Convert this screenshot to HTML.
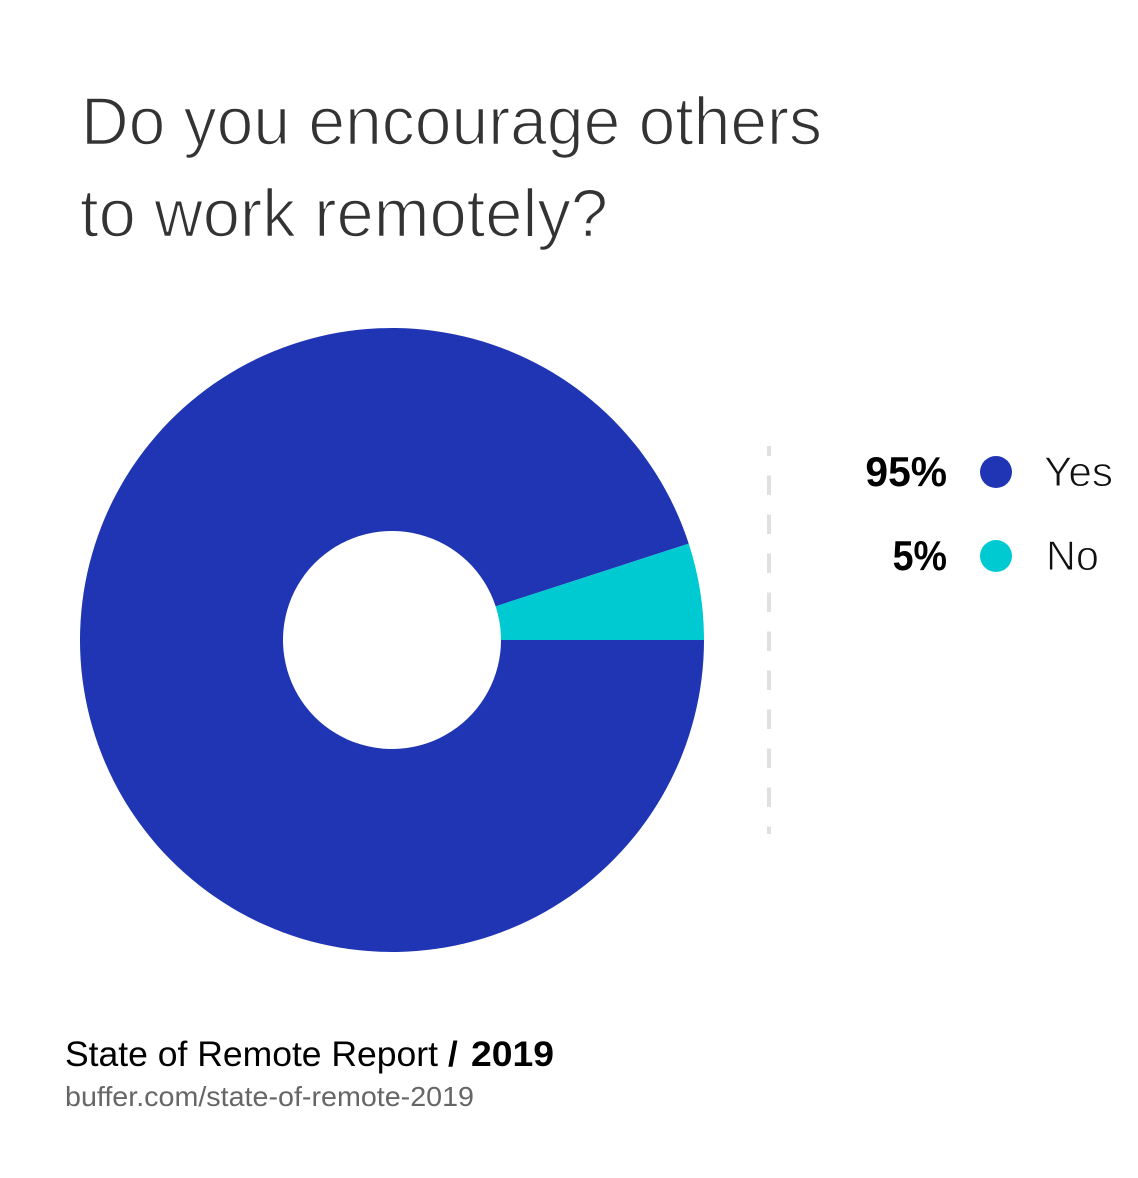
<!DOCTYPE html>
<html lang="en">
<head>
<meta charset="utf-8">
<title>Do you encourage others to work remotely?</title>
<style>
html,body{margin:0;padding:0;background:#fff;width:1138px;height:1178px;overflow:hidden}
svg{display:block}
text{font-family:"Liberation Sans",sans-serif}
</style>
</head>
<body>
<svg id="chart" width="1138" height="1178" viewBox="0 0 1138 1178" xmlns="http://www.w3.org/2000/svg">
  <rect width="1138" height="1178" fill="#ffffff"/>
  <g fill="#333333" font-size="68" stroke="#ffffff" stroke-width="1.6">
    <text x="81" y="144.5" textLength="741" lengthAdjust="spacingAndGlyphs">Do you encourage others</text>
    <text x="80" y="236.5" textLength="528" lengthAdjust="spacingAndGlyphs">to work remotely?</text>
  </g>
  <g id="slices"></g>
  <line x1="769" y1="446" x2="769" y2="834" stroke="#e0e0e0" stroke-width="4" stroke-dasharray="19.5 19.5" stroke-dashoffset="9.5"/>
  <g id="legend"></g>
  <g>
    <text x="65" y="1066" font-size="35" fill="#000000" textLength="373" lengthAdjust="spacingAndGlyphs">State of Remote Report</text>
    <text x="448" y="1066" font-size="35" font-weight="700" fill="#000000">/</text>
    <text x="471" y="1066" font-size="35" font-weight="700" fill="#000000" textLength="83" lengthAdjust="spacingAndGlyphs">2019</text>
    <text x="65" y="1106" font-size="28" fill="#666666" textLength="409" lengthAdjust="spacingAndGlyphs">buffer.com/state-of-remote-2019</text>
  </g>
</svg>
<script>
const categories = ['Yes', 'No'];
const seriesValues = [95, 5];
const valueLabels = ['95%', '5%'];
const seriesColors = ['#2035b3', '#00cad1'];

const NS = 'http://www.w3.org/2000/svg';
const cx = 392, cy = 640, outerR = 312, innerR = 109;
const total = seriesValues.reduce(function (a, b) { return a + b; }, 0);

function angleScale(v) {
  return v / total * Math.PI * 2;
}
function polar(r, a) {
  return [cx + r * Math.cos(a), cy + r * Math.sin(a)];
}
function slicePath(a0, a1) {
  const p0 = polar(outerR, a0), p1 = polar(outerR, a1);
  const p2 = polar(innerR, a1), p3 = polar(innerR, a0);
  const large = a1 - a0 > Math.PI ? 1 : 0;
  return 'M' + p0[0] + ' ' + p0[1] +
    'A' + outerR + ' ' + outerR + ' 0 ' + large + ' 1 ' + p1[0] + ' ' + p1[1] +
    'L' + p2[0] + ' ' + p2[1] +
    'A' + innerR + ' ' + innerR + ' 0 ' + large + ' 0 ' + p3[0] + ' ' + p3[1] + 'Z';
}

const slicesGroup = document.getElementById('slices');
let angle = 0;
seriesValues.forEach(function (v, i) {
  const next = angle + angleScale(v);
  const path = document.createElementNS(NS, 'path');
  path.setAttribute('d', slicePath(angle, next));
  path.setAttribute('fill', seriesColors[i]);
  
  
  slicesGroup.appendChild(path);
  angle = next;
});

const legendGroup = document.getElementById('legend');
const rowTop = 472, rowGap = 84;
const labelWidths = { 'Yes': 69, 'No': 53 };
const labelStarts = { 'Yes': 1044, 'No': 1046 };
categories.forEach(function (name, i) {
  const y = rowTop + rowGap * i;
  const key = name.toLowerCase();

  const val = document.createElementNS(NS, 'text');
  const valWidth = valueLabels[i].length * 27.2;
  val.setAttribute('x', 947 - valWidth);
  val.setAttribute('y', y + 14);
  val.setAttribute('font-size', '42');
  val.setAttribute('font-weight', '700');
  val.setAttribute('fill', '#000000');
  val.setAttribute('textLength', valWidth);
  val.setAttribute('lengthAdjust', 'spacingAndGlyphs');
  val.textContent = valueLabels[i];
  
  
  legendGroup.appendChild(val);

  const dot = document.createElementNS(NS, 'circle');
  dot.setAttribute('cx', 996);
  dot.setAttribute('cy', y);
  dot.setAttribute('r', 16);
  dot.setAttribute('fill', seriesColors[i]);
  
  
  legendGroup.appendChild(dot);

  const lab = document.createElementNS(NS, 'text');
  lab.setAttribute('x', labelStarts[name]);
  lab.setAttribute('y', y + 14);
  lab.setAttribute('font-size', '42');
  lab.setAttribute('fill', '#111111');
  lab.setAttribute('stroke', '#ffffff');
  lab.setAttribute('stroke-width', '1');
  lab.setAttribute('textLength', labelWidths[name]);
  lab.setAttribute('lengthAdjust', 'spacingAndGlyphs');
  lab.textContent = name;
  
  
  legendGroup.appendChild(lab);
});
</script>
</body>
</html>
